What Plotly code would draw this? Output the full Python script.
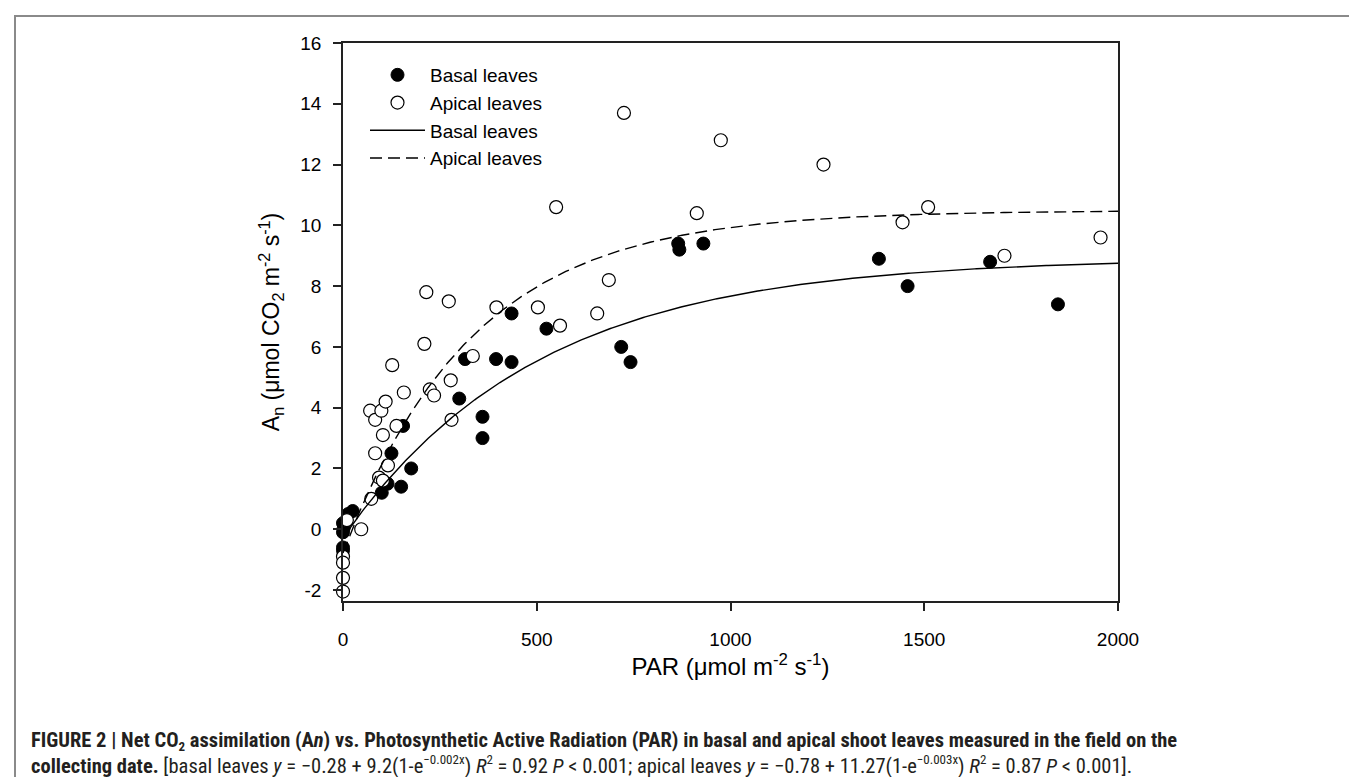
import numpy as np
import plotly.graph_objects as go

# ---------------- data ----------------
basal_par = [0, 2, 0, 0, 0, 13, 25, 100, 115, 125, 150, 155, 176, 300, 315, 360, 360, 395,
             435, 435, 525, 718, 742, 865, 868, 930, 1383, 1457, 1670, 1845]
basal_an = [0.2, 0.05, -0.1, -0.6, -0.7, 0.5, 0.6, 1.2, 1.5, 2.5, 1.4, 3.4, 2.0, 4.3, 5.6, 3.7, 3.0, 5.6,
            7.1, 5.5, 6.6, 6.0, 5.5, 9.4, 9.2, 9.4, 8.9, 8.0, 8.8, 7.4]

apical_par = [0, 0, 0, 0, 10, 47, 73, 70, 83, 99, 110, 103, 83, 116, 93, 103, 127, 138, 157,
              210, 215, 224, 235, 273, 278, 280, 335, 396, 503, 550, 560, 656, 686, 725,
              913, 975, 1240, 1444, 1510, 1707, 1955]
apical_an = [-0.9, -1.1, -1.6, -2.05, 0.3, 0.0, 1.0, 3.9, 3.6, 3.9, 4.2, 3.1, 2.5, 2.1, 1.7, 1.6, 5.4, 3.4, 4.5,
             6.1, 7.8, 4.6, 4.4, 7.5, 4.9, 3.6, 5.7, 7.3, 7.3, 10.6, 6.7, 7.1, 8.2, 13.7,
             10.4, 12.8, 12.0, 10.1, 10.6, 9.0, 9.6]

# fitted model parameters from the caption: y = a + b(1 - exp(-c x))
basal_fit = [-0.28, 9.2, 0.002]
apical_fit = [-0.78, 11.27, 0.003]

x_ticks = [0, 500, 1000, 1500, 2000]
x_ticklabels = ["0", "500", "1000", "1500", "2000"]
y_ticks = [-2, 0, 2, 4, 6, 8, 10, 12, 14, 16]
y_ticklabels = ["-2", "0", "2", "4", "6", "8", "10", "12", "14", "16"]

# ---------------- figure ----------------
xfit = np.linspace(0, 2000, 401)
def model(p, x):
    return p[0] + p[1] * (1 - np.exp(-p[2] * x))

FONT = "Liberation Sans, Arial, sans-serif"

fig = go.Figure()
fig.add_trace(go.Scatter(x=basal_par, y=basal_an, mode="markers", name="Basal leaves",
                         marker=dict(size=13, color="black", line=dict(color="black", width=1)),
                         cliponaxis=False))
fig.add_trace(go.Scatter(x=apical_par, y=apical_an, mode="markers", name="Apical leaves",
                         marker=dict(size=13, color="white", line=dict(color="black", width=1.2)),
                         cliponaxis=False))
fig.add_trace(go.Scatter(x=xfit, y=model(basal_fit, xfit), mode="lines", name="Basal leaves",
                         line=dict(color="black", width=1.4)))
fig.add_trace(go.Scatter(x=xfit, y=model(apical_fit, xfit), mode="lines", name="Apical leaves",
                         line=dict(color="black", width=1.4, dash="12px,6px")))

L, R, T, B = 335, 1110, 35, 593
W, H = 1357, 777
pw, ph = R - L, B - T

fig.update_layout(
    width=W, height=H,
    margin=dict(l=L, r=W - R, t=T, b=H - B, pad=0),
    paper_bgcolor="white", plot_bgcolor="white",
    font=dict(family=FONT, color="black", size=19),
    showlegend=True,
    legend=dict(x=(357 - L) / pw, y=(B - 48) / ph, xanchor="left", yanchor="top",
                bgcolor="rgba(0,0,0,0)", font=dict(size=19, family=FONT),
                tracegroupgap=0, itemwidth=55),
    xaxis=dict(range=[0, 2000], tickvals=x_ticks, ticktext=x_ticklabels, ticks="outside", ticklen=8,
               tickwidth=1.5, tickcolor="#222", showline=True, linecolor="#222", linewidth=1.5, mirror=True,
               showgrid=False, zeroline=False, ticklabelstandoff=12,
               tickfont=dict(size=19),
               title=dict(text="PAR (μmol m<sup>-2</sup> s<sup>-1</sup>)", font=dict(size=24), standoff=8)),
    yaxis=dict(range=[16 - ph / 30.39, 16], tickvals=y_ticks, ticktext=y_ticklabels, ticks="outside", ticklen=8,
               tickwidth=1.5, tickcolor="#222", showline=True, linecolor="#222", linewidth=1.5, mirror=True,
               showgrid=False, zeroline=False, ticklabelstandoff=8,
               tickfont=dict(size=19),
               title=dict(text="A<sub>n</sub> (μmol CO<sub>2</sub> m<sup>-2</sup> s<sup>-1</sup>)",
                          font=dict(size=23), standoff=14)),
)

# outer frame of the figure panel
def px2x(px):
    return (px - L) / pw
def py2y(py):
    return (B - py) / ph

fig.add_shape(type="path", xref="paper", yref="paper",
              path=f"M {px2x(7)},{py2y(790)} L {px2x(7)},{py2y(8)} L {px2x(1355)},{py2y(8)} L {px2x(1355)},{py2y(790)}",
              line=dict(color="#8a8a8a", width=2))

CAP_FONT = "Roboto Condensed, Liberation Sans Narrow, Arial Narrow, sans-serif"
S = "<span style='font-size:13px'>"
line1 = (f"<b>FIGURE 2 | Net CO<sub>{S}2</span></sub> assimilation (A<i>n</i>) vs. Photosynthetic Active Radiation (PAR) "
         "in basal and apical shoot leaves measured in the field on the</b>")
line2 = (f"<b>collecting date.</b> [basal leaves <i>y</i> = −0.28 + 9.2(1-e<sup>{S}−0.002x</span></sup>) "
         f"<i>R</i><sup>{S}2</span></sup> = 0.92 <i>P</i> &lt; 0.001; apical leaves <i>y</i> = −0.78 + 11.27(1-e<sup>{S}−0.003x</span></sup>) "
         f"<i>R</i><sup>{S}2</span></sup> = 0.87 <i>P</i> &lt; 0.001].")
fig.add_annotation(text=line1, xref="paper", yref="paper", x=px2x(21), y=py2y(733),
                   xanchor="left", yanchor="middle", showarrow=False,
                   font=dict(family=CAP_FONT, size=20.5, color="#231f20"))
fig.add_annotation(text=line2, xref="paper", yref="paper", x=px2x(21), y=py2y(757),
                   xanchor="left", yanchor="middle", showarrow=False,
                   font=dict(family=CAP_FONT, size=20.5, color="#231f20"))

fig.write_html("out.html")
